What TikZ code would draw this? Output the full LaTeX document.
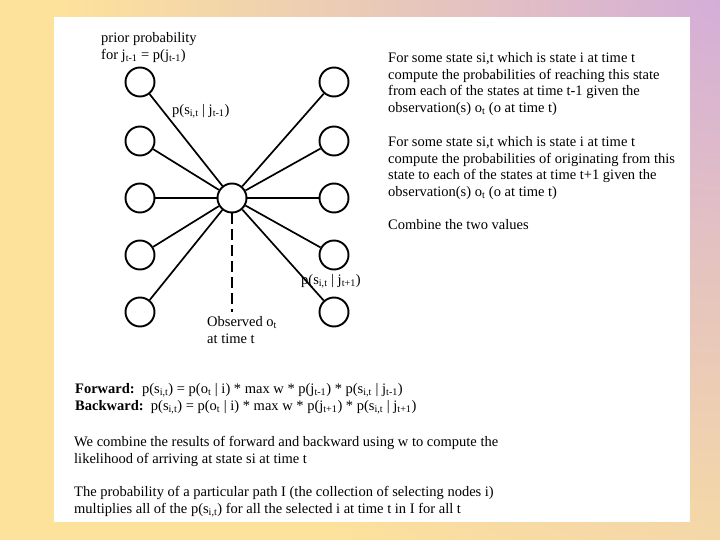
\documentclass[tikz,border=0pt]{standalone}
\usepackage{fontspec}
\setmainfont{Liberation Serif}
\definecolor{bgyellow}{RGB}{253,226,155}
\definecolor{bgpurple}{RGB}{212,174,216}
\tikzset{
  state/.style={circle, draw, line width=1.9pt, minimum size=29pt, inner sep=0pt},
  link/.style={line width=1.7pt},
  txt/.style={inner sep=0pt, anchor=west, align=left,
    font=\fontsize{14.5}{16.8}\selectfont},
  para/.style={txt, anchor=north west}
}
\begin{document}
\begin{tikzpicture}[x=1pt, y=-1pt]
% slide background
\fill[bgyellow] (0,0) rectangle (720,540);
\begin{scope}
  \clip (0,0) rectangle (720,540);
  \shade[inner color=bgpurple, outer color=bgyellow] (720,0) circle (660pt);
\end{scope}
\fill[white] (54,17) rectangle (690,522);
\useasboundingbox (0,0) rectangle (720,540);

% states at t-1, t and t+1
\node[state] (st) at (232,198) {};
\foreach \k/\y in {1/82, 2/141, 3/198, 4/255, 5/312} {
  \node[state] (p\k) at (140,\y) {};
  \node[state] (n\k) at (334,\y) {};
  \draw[link] (st) -- (p\k);
  \draw[link] (st) -- (n\k);
}
\coordinate (obs) at (232,312);
\draw[link, dash pattern=on 11pt off 5pt] (st) -- (obs);

% labels
\node[para] (prior) at (101,32) {prior probability\\for j\textsubscript{t-1} = p(j\textsubscript{t-1})};
\node[txt] (pback) at (172,111) {p(s\textsubscript{i,t} | j\textsubscript{t-1})};
\node[txt] (pfwd) at (301,281) {p(s\textsubscript{i,t} | j\textsubscript{t+1})};
\node[para] (obstxt) at (207,316) {Observed o\textsubscript{t}\\at time t};

% explanation
\node[para] (reach) at (388,52) {For some state si,t which is state i at time t\\
  compute the probabilities of reaching this state\\
  from each of the states at time t-1 given the\\
  observation(s) o\textsubscript{t} (o at time t)};
\node[para] (orig) at (388,136) {For some state si,t which is state i at time t\\
  compute the probabilities of originating from this\\
  state to each of the states at time t+1 given the\\
  observation(s) o\textsubscript{t} (o at time t)};
\node[txt] (comb) at (388,225) {Combine the two values};

\node[para] (formulas) at (75,383) {\textbf{Forward:}\ \ p(s\textsubscript{i,t}) = p(o\textsubscript{t} | i) * max w * p(j\textsubscript{t-1}) * p(s\textsubscript{i,t} | j\textsubscript{t-1})\\
  \textbf{Backward:}\ \ p(s\textsubscript{i,t}) = p(o\textsubscript{t} | i) * max w * p(j\textsubscript{t+1}) * p(s\textsubscript{i,t} | j\textsubscript{t+1})};
\node[para] (combine) at (74,436) {We combine the results of forward and backward using w to compute the\\
  likelihood of arriving at state si at time t};
\node[para] (path) at (74,486) {The probability of a particular path I (the collection of selecting nodes i)\\
  multiplies all of the p(s\textsubscript{i,t}) for all the selected i at time t in I for all t};
\end{tikzpicture}
\end{document}
